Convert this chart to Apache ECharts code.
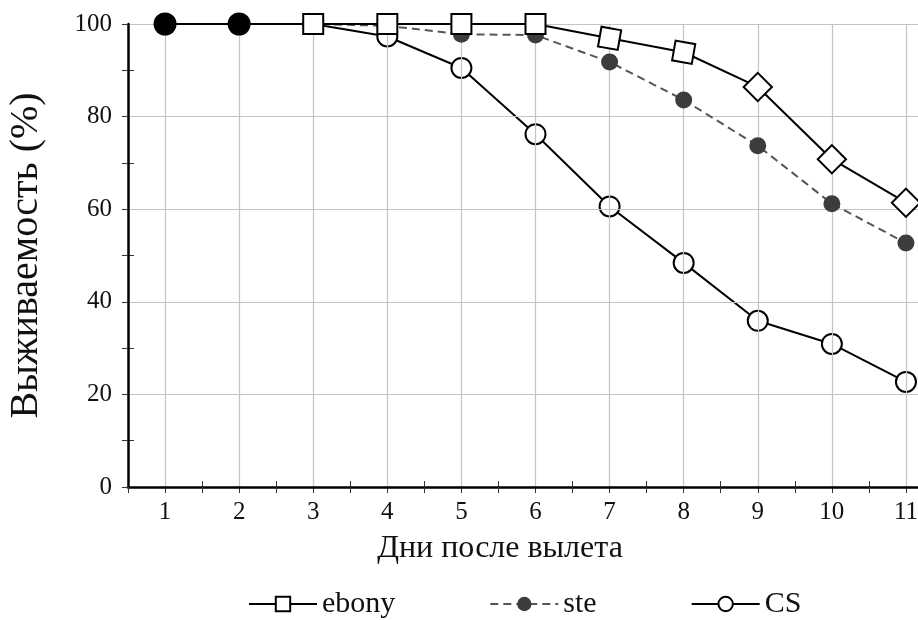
<!DOCTYPE html>
<html>
<head>
<meta charset="utf-8">
<script src="https://cdn.jsdelivr.net/npm/echarts@6/dist/echarts.min.js"></script>
<style>
html,body{margin:0;padding:0;background:#fff;}
#chart{width:918px;height:620px;}
</style>
</head>
<body>
<div id="chart"></div>
<script>
var days = ['1','2','3','4','5','6','7','8','9','10','11'];
var yTicks = [0, 20, 40, 60, 80, 100];
var ebony = [100, 100, 100, 100, 100, 100, 96.9, 93.9, 86.4, 70.8, 61.4];
var ste   = [100, 100, 100, 99.6, 97.8, 97.6, 91.8, 83.6, 73.7, 61.2, 52.7];
var cs    = [100, 100, 100, 97.3, 90.5, 76.2, 60.6, 48.4, 35.9, 30.9, 22.7];
var seriesNames = ['ebony', 'ste', 'CS'];
var xName = 'Дни после вылета';
var yName = 'Выживаемость (%)';

// marker styling per point (style only, not data)
var ebonyRotation = [0, 0, 0, 0, 0, 0, -10, -10, 45, 45, 45];
var ebonyHidden = [true, true, false, false, false, false, false, false, false, false, false];
var steBlack = [true, true, false, false, false, false, false, false, false, false, false];

var FONT = 'Liberation Serif';
var chart = echarts.init(document.getElementById('chart'), null, {renderer: 'canvas'});

var ebonyData = ebony.map(function (v, i) {
  var d = {value: v, symbolRotate: ebonyRotation[i]};
  if (ebonyHidden[i]) { d.symbol = 'none'; }
  return d;
});
var steData = ste.map(function (v, i) {
  if (steBlack[i]) {
    return {value: v, symbolSize: 23, itemStyle: {color: '#000'}};
  }
  return v;
});

var baseCat = {
  type: 'category',
  data: days,
  boundaryGap: true,
  gridIndex: 0,
  position: 'bottom'
};

var option = {
  backgroundColor: '#fff',
  animation: false,
  textStyle: {fontFamily: FONT},
  grid: {left: 128, top: 24, width: 815, bottom: 133, containLabel: false, outerBoundsMode: 'none'},
  legend: {
    left: 243,
    top: 584,
    itemGap: 94,
    itemWidth: 68,
    itemHeight: 18,
    textStyle: {fontFamily: FONT, fontSize: 30, color: '#111'},
    data: seriesNames
  },
  xAxis: [
    Object.assign({}, baseCat, {
      name: xName,
      nameLocation: 'middle',
      nameGap: 46,
      nameTextStyle: {fontFamily: FONT, fontSize: 32, color: '#111', padding: [0, 71, 0, 0]},
      axisLine: {show: true, lineStyle: {color: '#000', width: 2.5}},
      axisTick: {show: true, alignWithLabel: false, length: 6, inside: false, lineStyle: {color: '#333', width: 1}},
      axisLabel: {show: true, interval: 0, margin: 13, fontFamily: FONT, fontSize: 25, color: '#111'},
      splitLine: {show: true, alignWithLabel: true, interval: 0, lineStyle: {color: '#c4c4c4', width: 1.2}},
      z: 3
    }),
    Object.assign({}, baseCat, {
      axisLine: {show: false},
      axisTick: {show: true, alignWithLabel: true, length: 6, inside: false, lineStyle: {color: '#333', width: 1}},
      axisLabel: {show: false},
      splitLine: {show: false}
    }),
    Object.assign({}, baseCat, {
      axisLine: {show: false},
      axisTick: {show: true, alignWithLabel: false, length: 6, inside: true, lineStyle: {color: '#333', width: 1}},
      axisLabel: {show: false},
      splitLine: {show: false}
    })
  ],
  yAxis: [
    {
      type: 'value',
      min: yTicks[0],
      max: yTicks[yTicks.length - 1],
      interval: yTicks[1] - yTicks[0],
      position: 'left',
      name: yName,
      nameLocation: 'middle',
      nameGap: 82,
      nameRotate: 90,
      nameTextStyle: {fontFamily: FONT, fontSize: 40, color: '#111'},
      axisLine: {show: true, lineStyle: {color: '#000', width: 2.5}},
      axisTick: {show: true, length: 6, lineStyle: {color: '#333', width: 1}},
      minorTick: {show: true, splitNumber: 2, length: 6, lineStyle: {color: '#333', width: 1}},
      axisLabel: {margin: 16, fontFamily: FONT, fontSize: 25, color: '#111'},
      splitLine: {show: true, lineStyle: {color: '#c4c4c4', width: 1.2}},
      z: 3
    },
    {
      type: 'value',
      min: yTicks[0],
      max: yTicks[yTicks.length - 1],
      interval: yTicks[1] - yTicks[0],
      position: 'left',
      axisLine: {show: false},
      axisTick: {show: false, inside: true, length: 6},
      minorTick: {show: true, splitNumber: 2, length: 6, lineStyle: {color: '#333', width: 1}},
      axisLabel: {show: false},
      splitLine: {show: false}
    }
  ],
  series: [
    {
      name: seriesNames[2],
      type: 'line',
      data: cs,
      z: 2,
      symbol: 'circle',
      symbolSize: 20,
      lineStyle: {color: '#000', width: 2},
      itemStyle: {color: '#fff', borderColor: '#000', borderWidth: 2},
      emphasis: {disabled: true}
    },
    {
      name: seriesNames[1],
      type: 'line',
      data: steData,
      z: 3,
      symbol: 'circle',
      symbolSize: 17,
      lineStyle: {color: '#555', width: 2, type: [8, 5]},
      itemStyle: {color: '#3c3c3c', borderWidth: 0},
      emphasis: {disabled: true}
    },
    {
      name: seriesNames[0],
      type: 'line',
      data: ebonyData,
      z: 4,
      symbol: 'rect',
      symbolSize: 20,
      lineStyle: {color: '#000', width: 2},
      itemStyle: {color: '#fff', borderColor: '#000', borderWidth: 2},
      emphasis: {disabled: true}
    }
  ]
};
chart.setOption(option);
</script>
</body>
</html>
